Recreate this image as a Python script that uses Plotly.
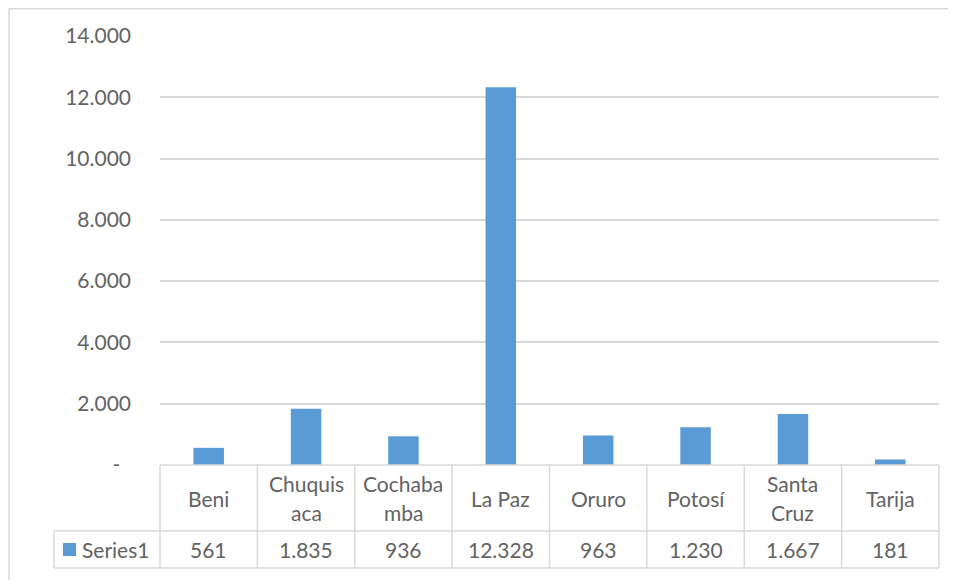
import plotly.graph_objects as go

# ---- data ----
categories = ["Beni", "Chuquisaca", "Cochabamba", "La Paz", "Oruro", "Potosí", "Santa Cruz", "Tarija"]
category_labels = [["Beni"], ["Chuquis", "aca"], ["Cochaba", "mba"], ["La Paz"], ["Oruro"], ["Potosí"], ["Santa", "Cruz"], ["Tarija"]]
series_name = "Series1"
values = [561, 1835, 936, 12328, 963, 1230, 1667, 181]
value_labels = ["561", "1.835", "936", "12.328", "963", "1.230", "1.667", "181"]
y_tickvals = [0, 2000, 4000, 6000, 8000, 10000, 12000, 14000]
y_ticktext = ["-\u00a0\u00a0", "2.000", "4.000", "6.000", "8.000", "10.000", "12.000", "14.000"]

# ---- layout geometry (page pixels); the page body has an 8px margin ----
OFF = 8
W_PAGE, H_PAGE = 956, 580
W_FIG, H_FIG = W_PAGE - OFF, H_PAGE - OFF
L, R, T, B = 160 - OFF, 939 - OFF, 36 - OFF, 465 - OFF
PW, PH = R - L, B - T
ROW1_BOTTOM = 531 - OFF
ROW2_BOTTOM = 568 - OFF
SERIES_LEFT = 54 - OFF

BAR = "#5B9BD5"
TXT = "#595959"
GRID = "#D9D9D9"
FONT = "Lato, Calibri, Arial, sans-serif"
FS = 21


def px(x):
    return (x - L) / PW


def py(y):
    return (B - y) / PH


fig = go.Figure()
fig.add_trace(go.Bar(x=categories, y=values, marker=dict(color=BAR, line=dict(width=0)),
                     name=series_name, showlegend=False, hoverinfo="x+y"))

shapes = []
annotations = []
tfont = dict(family=FONT, size=FS, color="#636363")


def hline(x0, x1, y):
    shapes.append(dict(type="line", xref="paper", yref="paper", x0=px(x0), x1=px(x1), y0=py(y), y1=py(y),
                       line=dict(color=GRID, width=1.5)))


def vline(x, y0, y1):
    shapes.append(dict(type="line", xref="paper", yref="paper", x0=px(x), x1=px(x), y0=py(y0), y1=py(y1),
                       line=dict(color=GRID, width=1.5)))


# table horizontal lines
hline(L, R, B)
hline(SERIES_LEFT, R, ROW1_BOTTOM)
hline(SERIES_LEFT, R, ROW2_BOTTOM)
# table vertical lines
n = len(categories)
col_w = PW / n
for i in range(n + 1):
    vline(L + i * col_w, B, ROW2_BOTTOM)
vline(SERIES_LEFT, ROW1_BOTTOM, ROW2_BOTTOM)

# outer chart border (clipped at right/bottom)
shapes.append(dict(type="line", xref="paper", yref="paper", x0=px(1), x1=px(W_FIG + 5), y0=py(0.75), y1=py(0.75),
                   line=dict(color=GRID, width=1.5)))
shapes.append(dict(type="line", xref="paper", yref="paper", x0=px(1), x1=px(1), y0=py(0.75), y1=py(H_FIG + 5),
                   line=dict(color=GRID, width=1.5)))

# category labels in header row
header_mid = (B + ROW1_BOTTOM) / 2
line_gap = 29
for i, lines in enumerate(category_labels):
    cx = L + (i + 0.5) * col_w
    k = len(lines)
    for j, t in enumerate(lines):
        yy = header_mid + (j - (k - 1) / 2) * line_gap
        annotations.append(dict(x=px(cx), y=py(yy), xref="paper", yref="paper", text=t, showarrow=False,
                                xanchor="center", yanchor="middle", font=tfont))

# values row
row2_mid = (ROW1_BOTTOM + ROW2_BOTTOM) / 2
for i, t in enumerate(value_labels):
    cx = L + (i + 0.5) * col_w
    annotations.append(dict(x=px(cx), y=py(row2_mid), xref="paper", yref="paper", text=t, showarrow=False,
                            xanchor="center", yanchor="middle", font=tfont))

# legend key + series name
shapes.append(dict(type="rect", xref="paper", yref="paper", x0=px(63 - OFF), x1=px(76 - OFF),
                   y0=py(543 - OFF), y1=py(556 - OFF), fillcolor=BAR, line=dict(width=0)))
annotations.append(dict(x=px(80 - OFF), y=py(row2_mid), xref="paper", yref="paper", text=series_name,
                        showarrow=False, xanchor="left", yanchor="middle", font=tfont))

fig.update_layout(
    width=W_FIG, height=H_FIG,
    margin=dict(l=L, r=W_FIG - R, t=T, b=H_FIG - B, pad=0),
    paper_bgcolor="white", plot_bgcolor="white",
    bargap=1 - 30.5 / col_w,
    font=tfont,
    xaxis=dict(range=[-0.5, n - 0.5], showticklabels=False, showgrid=False, zeroline=False,
               showline=False, ticks="", fixedrange=True),
    yaxis=dict(range=[0, 14000], tickvals=y_tickvals, ticktext=y_ticktext, showgrid=True,
               gridcolor=GRID, gridwidth=1.5, zeroline=False, showline=False, ticks="",
               ticklabelstandoff=28, tickfont=tfont, fixedrange=True),
    shapes=shapes,
    annotations=annotations,
)

fig.write_html("out.html")
